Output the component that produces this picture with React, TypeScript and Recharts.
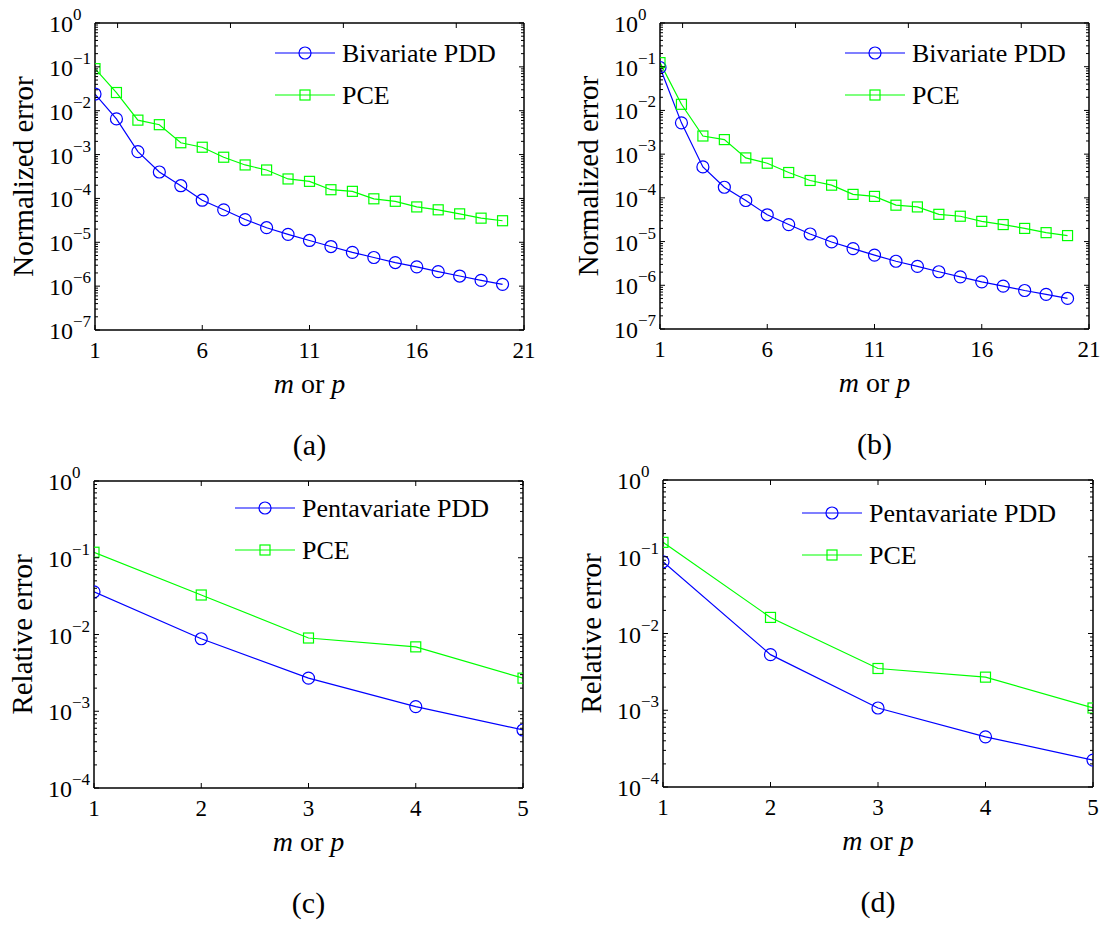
import { LineChart, Line, XAxis, YAxis, Legend } from 'recharts';

// ---- data ----
const X_20 = [1, 2, 3, 4, 5, 6, 7, 8, 9, 10, 11, 12, 13, 14, 15, 16, 17, 18, 19, 20];
const X_5 = [1, 2, 3, 4, 5];
const TICKS_20 = [1, 6, 11, 16, 21];
const TICKS_5 = [1, 2, 3, 4, 5];

const A_PDD = [0.024, 0.0065, 0.00117, 4.0e-4, 1.95e-4, 9.1e-5, 5.5e-5, 3.3e-5, 2.15e-5, 1.52e-5, 1.1e-5, 8.0e-6, 5.9e-6, 4.5e-6, 3.45e-6, 2.75e-6, 2.14e-6, 1.7e-6, 1.35e-6, 1.1e-6];
const A_PCE = [0.091, 0.026, 0.0061, 0.0048, 0.00186, 0.00147, 8.7e-4, 5.8e-4, 4.45e-4, 2.78e-4, 2.45e-4, 1.58e-4, 1.45e-4, 9.8e-5, 8.6e-5, 6.4e-5, 5.5e-5, 4.45e-5, 3.55e-5, 3.1e-5];
const B_PDD = [0.096, 0.0052, 5.1e-4, 1.75e-4, 8.7e-5, 4.1e-5, 2.45e-5, 1.49e-5, 9.8e-6, 6.9e-6, 4.9e-6, 3.55e-6, 2.7e-6, 2.04e-6, 1.56e-6, 1.2e-6, 9.6e-7, 7.6e-7, 6.2e-7, 5.0e-7];
const B_PCE = [0.124, 0.0138, 0.0026, 0.00215, 8.2e-4, 6.2e-4, 3.8e-4, 2.5e-4, 1.95e-4, 1.2e-4, 1.08e-4, 6.8e-5, 6.2e-5, 4.2e-5, 3.8e-5, 2.9e-5, 2.45e-5, 2.0e-5, 1.6e-5, 1.37e-5];
const C_PDD = [0.036, 0.0088, 0.0027, 0.00115, 5.7e-4];
const C_PCE = [0.118, 0.0327, 0.009, 0.0069, 0.0027];
const D_PDD = [0.086, 0.0053, 0.00107, 4.5e-4, 2.24e-4];
const D_PCE = [0.154, 0.0162, 0.0035, 0.0027, 0.00107];

const FONT = 'Liberation Serif';
const BLUE = '#0000ff';
const GREEN = '#00ff00';
const W = 553;
const H = 468;

// major + minor ticks of a log axis from 10^minExp to 10^0
function logTicks(minExp: number) {
  const out: number[] = [];
  for (let e = minExp; e < 0; e++) {
    for (let m = 1; m < 10; m++) out.push(Number((m * Math.pow(10, e)).toPrecision(3)));
  }
  out.push(1);
  return out;
}

function isMajor(v: number) {
  const l = Math.log10(v);
  return Math.abs(l - Math.round(l)) < 1e-6;
}

const circleDot = (props: any) => (
  <circle key={`c-${props.index}`} cx={props.cx} cy={props.cy} r={6} fill="none" stroke={BLUE} strokeWidth={1.2} />
);
const squareDot = (props: any) => (
  <rect key={`s-${props.index}`} x={props.cx - 5} y={props.cy - 5} width={10} height={10} fill="none" stroke={GREEN} strokeWidth={1.2} />
);

interface PanelProps {
  left: number;
  top: number;
  L: number;
  R: number;
  T: number;
  B: number;
  xs: number[];
  xTicks: number[];
  pdd: number[];
  pce: number[];
  minExp: number;
  yLabel: string;
  pddName: string;
  caption: string;
  legLeft: number;
  legTop: number;
}

function Panel(p: PanelProps) {
  const { L, R, T, B } = p;
  const data = p.xs.map((x, i) => ({ x, pdd: p.pdd[i], pce: p.pce[i] }));
  const yTicks = logTicks(p.minExp);
  const xDomain = [p.xTicks[0], p.xTicks[p.xTicks.length - 1]];
  const yDomain = [Math.pow(10, p.minExp), 1];
  const axisLine = { stroke: '#000', strokeWidth: 1.5 };
  const cx = (L + R) / 2;
  const legendRows = [
    { name: p.pddName, color: BLUE, marker: 'circle' },
    { name: 'PCE', color: GREEN, marker: 'square' },
  ];

  return (
    <div style={{ position: 'absolute', left: p.left, top: p.top, width: W, height: H }}>
      <LineChart
        width={W}
        height={H}
        data={data}
        margin={{ top: T - 5, right: W - R - 10, bottom: H - B - 30, left: 0 }}
      >
        <XAxis
          dataKey="x"
          type="number"
          domain={xDomain}
          ticks={p.xTicks}
          interval={0}
          allowDataOverflow
          height={30}
          axisLine={axisLine}
          tickLine={false}
          tick={(t: any) => (
            <g>
              <line x1={t.x} x2={t.x} y1={B} y2={B - 5} stroke="#000" strokeWidth={1} />
              <text x={t.x} y={B + 28} textAnchor="middle" fontSize={23} fontFamily={FONT} fill="#000">
                {t.payload.value}
              </text>
            </g>
          )}
          label={() => (
            <g>
              <text x={cx} y={B + 63} textAnchor="middle" fontSize={28} fontFamily={FONT} fill="#000">
                <tspan fontStyle="italic">m</tspan>
                <tspan> or </tspan>
                <tspan fontStyle="italic">p</tspan>
              </text>
              <text x={cx} y={B + 125} textAnchor="middle" fontSize={30} fontFamily={FONT} fill="#000">
                {p.caption}
              </text>
            </g>
          )}
        />
        <XAxis
          xAxisId="top"
          orientation="top"
          type="number"
          domain={xDomain}
          ticks={p.xTicks}
          interval={0}
          allowDataOverflow
          height={5}
          axisLine={axisLine}
          tickLine={false}
          tick={(t: any) => <line x1={t.x} x2={t.x} y1={T} y2={T + 5} stroke="#000" strokeWidth={1} />}
        />
        <YAxis
          type="number"
          scale="log"
          domain={yDomain}
          ticks={yTicks}
          interval={0}
          allowDataOverflow
          width={L}
          axisLine={axisLine}
          tickLine={false}
          tick={(t: any) => {
            const v = t.payload.value;
            const major = isMajor(v);
            const e = Math.round(Math.log10(v));
            return (
              <g>
                <line x1={L} x2={L + (major ? 5 : 3)} y1={t.y} y2={t.y} stroke="#000" strokeWidth={1} />
                {major && (
                  <text x={L - 46} y={t.y + 9} fontSize={24} fontFamily={FONT} fill="#000">
                    <tspan>10</tspan>
                    <tspan dy={-12} fontSize={17}>{e === 0 ? '0' : `\u2212${-e}`}</tspan>
                  </text>
                )}
              </g>
            );
          }}
          label={() => (
            <text
              x={L - 62}
              y={(T + B) / 2}
              transform={`rotate(-90 ${L - 62} ${(T + B) / 2})`}
              textAnchor="middle"
              fontSize={29}
              fontFamily={FONT}
              fill="#000"
            >
              {p.yLabel}
            </text>
          )}
        />
        <YAxis
          yAxisId="right"
          orientation="right"
          type="number"
          scale="log"
          domain={yDomain}
          ticks={yTicks}
          interval={0}
          allowDataOverflow
          width={10}
          axisLine={axisLine}
          tickLine={false}
          tick={(t: any) => {
            const major = isMajor(t.payload.value);
            return <line x1={R} x2={R - (major ? 5 : 3)} y1={t.y} y2={t.y} stroke="#000" strokeWidth={1} />;
          }}
        />
        <Legend
          layout="vertical"
          align="center"
          verticalAlign="middle"
          wrapperStyle={{ position: 'absolute', left: p.legLeft, top: p.legTop, width: 280, height: 80 }}
          content={() => (
            <svg width={280} height={80} style={{ display: 'block' }}>
              {legendRows.map((row, i) => {
                const y = 20 + i * 42;
                return (
                  <g key={row.name}>
                    <line x1={0} x2={60} y1={y} y2={y} stroke={row.color} strokeWidth={1.2} />
                    {row.marker === 'circle' ? (
                      <circle cx={30} cy={y} r={6} fill="none" stroke={row.color} strokeWidth={1.2} />
                    ) : (
                      <rect x={25} y={y - 5} width={10} height={10} fill="none" stroke={row.color} strokeWidth={1.2} />
                    )}
                    <text x={67} y={y + 9} fontSize={26} fontFamily={FONT} fill="#000">
                      {row.name}
                    </text>
                  </g>
                );
              })}
            </svg>
          )}
        />
        <Line dataKey="pdd" name={p.pddName} stroke={BLUE} strokeWidth={1.2} dot={circleDot} isAnimationActive={false} />
        <Line dataKey="pce" name="PCE" stroke={GREEN} strokeWidth={1.2} dot={squareDot} isAnimationActive={false} />
      </LineChart>
    </div>
  );
}

export default function App() {
  return (
    <div style={{ position: 'absolute', left: 0, top: 0, width: 1106, height: 928, background: '#fff', fontFamily: FONT }}>
      <Panel left={0} top={0} L={95} R={524} T={23} B={330} xs={X_20} xTicks={TICKS_20} pdd={A_PDD} pce={A_PCE}
        minExp={-7} yLabel="Normalized error" pddName="Bivariate PDD" caption="(a)" legLeft={275} legTop={33} />
      <Panel left={553} top={0} L={107} R={536} T={23} B={329} xs={X_20} xTicks={TICKS_20} pdd={B_PDD} pce={B_PCE}
        minExp={-7} yLabel="Normalized error" pddName="Bivariate PDD" caption="(b)" legLeft={292} legTop={33} />
      <Panel left={0} top={460} L={94} R={523} T={21} B={328} xs={X_5} xTicks={TICKS_5} pdd={C_PDD} pce={C_PCE}
        minExp={-4} yLabel="Relative error" pddName="Pentavariate PDD" caption="(c)" legLeft={235} legTop={28} />
      <Panel left={553} top={460} L={110} R={540} T={20} B={327} xs={X_5} xTicks={TICKS_5} pdd={D_PDD} pce={D_PCE}
        minExp={-4} yLabel="Relative error" pddName="Pentavariate PDD" caption="(d)" legLeft={249} legTop={33} />
    </div>
  );
}
